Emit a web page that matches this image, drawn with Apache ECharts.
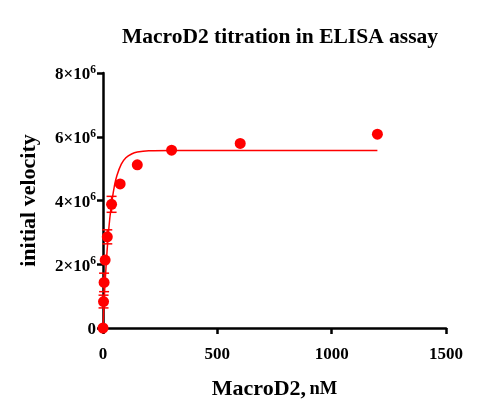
<!DOCTYPE html>
<html><head><meta charset="utf-8">
<script src="https://cdn.jsdelivr.net/npm/echarts@6/dist/echarts.min.js"></script>
<style>html,body{margin:0;padding:0;background:#fff}#c{width:500px;height:420px}</style>
</head><body><div id="c"></div>
<script>
const concentration = [0, 2.34, 4.69, 9.38, 18.75, 37.5, 75, 150, 300, 600, 1200];
const velocity = [0, 0.83e6, 1.43e6, 2.13e6, 2.86e6, 3.88e6, 4.52e6, 5.12e6, 5.58e6, 5.79e6, 6.08e6];
const velocityErr = [0, 0.2e6, 0.29e6, 0, 0.22e6, 0.25e6, 0, 0, 0, 0, 0];
const fitX = [0, 5, 10, 20, 30, 40, 50, 60, 80, 100, 125, 150, 200, 300, 600, 1200];
const fitY = [0, 0.84e6, 1.53e6, 2.63e6, 3.46e6, 4.02e6, 4.46e6, 4.76e6, 5.14e6, 5.34e6, 5.46e6, 5.52e6, 5.56e6, 5.57e6, 5.57e6, 5.57e6];
const xTicks = [0, 500, 1000, 1500];
const yTickMantissa = [0, 2, 4, 6, 8];

const serif = 'Liberation Serif';
const chart = echarts.init(document.getElementById('c'));
const red = '#ff0000';
chart.setOption({
  animation: false,
  title: {
    text: 'MacroD2 titration in ELISA assay',
    left: 275, top: 21, textAlign: 'center',
    textStyle: {fontFamily: serif, fontWeight: 'bold', fontSize: 21.5, color: '#000'}
  },
  grid: {left: 103, right: 54, top: 73, bottom: 92, containLabel: false},
  xAxis: {
    type: 'value', min: xTicks[0], max: xTicks[xTicks.length - 1], interval: 500,
    axisLine: {lineStyle: {color: '#000', width: 2.5}},
    axisTick: {length: 6, lineStyle: {color: '#000', width: 2.5}},
    splitLine: {show: false},
    axisLabel: {
      fontFamily: serif, fontWeight: 'bold', fontSize: 17, color: '#000', margin: 18,
      formatter: function (v) { return String(xTicks[Math.round(v / 500)]); }
    },
    name: '{a|MacroD2,} {b|nM}', nameLocation: 'middle', nameGap: 50,
    nameTextStyle: {rich: {
      a: {fontFamily: serif, fontWeight: 'bold', fontSize: 22, color: '#000'},
      b: {fontFamily: serif, fontWeight: 'bold', fontSize: 18.5, color: '#000'}
    }}
  },
  yAxis: {
    type: 'value', min: 0, max: 8e6, interval: 2e6,
    axisLine: {lineStyle: {color: '#000', width: 2.5}},
    axisTick: {length: 6, lineStyle: {color: '#000', width: 2.5}},
    splitLine: {show: false},
    axisLabel: {
      margin: 7,
      formatter: function (v) {
        const m = yTickMantissa[Math.round(v / 2e6)];
        return m === 0 ? '{a|0}' : '{a|' + m + '×10}{s|6}';
      },
      rich: {
        a: {fontFamily: serif, fontWeight: 'bold', fontSize: 17, color: '#000', padding: [4, 0, 0, 0]},
        s: {fontFamily: serif, fontWeight: 'bold', fontSize: 11.5, color: '#000', padding: [0, 0, 6, 0]}
      }
    },
    name: 'initial velocity', nameLocation: 'middle', nameGap: 63, nameRotate: 90,
    nameTextStyle: {fontFamily: serif, fontWeight: 'bold', fontSize: 22, color: '#000'}
  },
  series: [
    {
      type: 'line', data: fitX.map((x, i) => [x, fitY[i]]), smooth: 0.4, zlevel: 1,
      showSymbol: false, lineStyle: {color: red, width: 1.5}, z: 2
    },
    {
      type: 'custom', z: 3, zlevel: 1,
      data: concentration.map((x, i) => [x, velocity[i], velocityErr[i]]),
      renderItem: function (params, api) {
        const x = api.value(0), y = api.value(1), e = api.value(2);
        if (!e) return null;
        const top = api.coord([x, y + e]);
        const bot = api.coord([x, y - e]);
        const hw = 5;
        const st = {stroke: red, lineWidth: 1.5};
        return {type: 'group', children: [
          {type: 'line', shape: {x1: top[0], y1: top[1], x2: bot[0], y2: bot[1]}, style: st},
          {type: 'line', shape: {x1: top[0] - hw, y1: top[1], x2: top[0] + hw, y2: top[1]}, style: st},
          {type: 'line', shape: {x1: bot[0] - hw, y1: bot[1], x2: bot[0] + hw, y2: bot[1]}, style: st}
        ]};
      }
    },
    {
      type: 'scatter', data: concentration.map((x, i) => [x, velocity[i]]), zlevel: 1,
      symbol: 'circle', symbolSize: 11, itemStyle: {color: red, opacity: 1}, z: 4
    }
  ]
});
</script></body></html>
